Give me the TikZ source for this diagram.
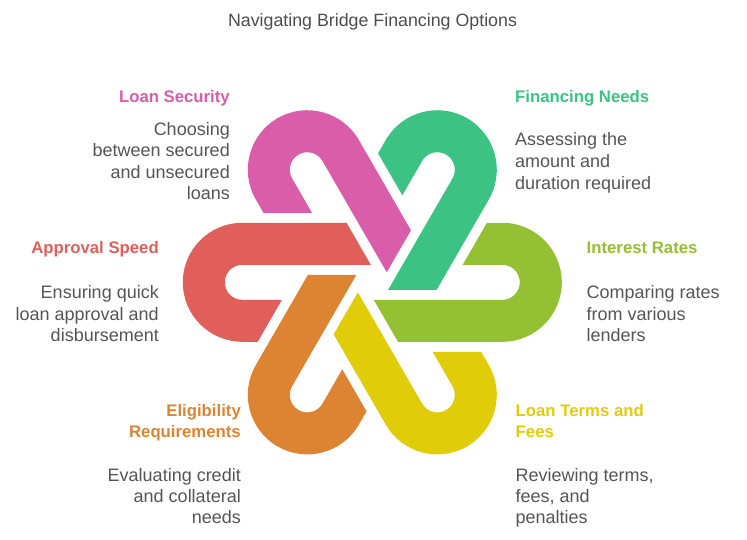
\documentclass[tikz,border=0pt]{standalone}
\usepackage{fontspec}
\setmainfont{Liberation Sans}
\definecolor{cpink}{HTML}{D95DA8}
\definecolor{cgreen}{HTML}{3CC383}
\definecolor{clime}{HTML}{94C033}
\definecolor{cyellow}{HTML}{E1CC0A}
\definecolor{corange}{HTML}{DD8433}
\definecolor{cred}{HTML}{E05F5A}
\definecolor{cgray}{HTML}{555555}
\definecolor{ctitle}{HTML}{4D4D4D}
\begin{document}
\begin{tikzpicture}[x=1pt,y=1pt,
  desc/.style={inner sep=0pt, font=\fontsize{18}{21.5}\selectfont, text=cgray},
  lab/.style={inner sep=0pt, font=\fontsize{16.75}{20.5}\selectfont\bfseries},
  ttl/.style={inner sep=0pt, font=\fontsize{17.8}{20}\selectfont, text=ctitle}]
\useasboundingbox (0,0) rectangle (747,-540);
\coordinate (C) at (372.3,-282.3);
% six interlocking hooks (one shape rotated around the centre)
\foreach \ang/\col in {0/cred,-60/cpink,-120/cgreen,180/clime,120/cyellow,60/corange}{
  \fill[\col, shift={(C)}, rotate=\ang]
    (-25.7,59.5) -- (-130,59.5) arc[start angle=90,end angle=270,radius=59.5]
    -- (-114.6,-59.5) -- (-90.36,-17.5) -- (-130,-17.5)
    arc[start angle=270,end angle=90,radius=17.5]
    -- (-1.44,17.5) -- cycle;
}
% title
\node[ttl, anchor=base] (title) at (372.5,-26.7) {Navigating Bridge Financing Options};
% Loan Security
\node[lab, text=cpink, anchor=base east] (l1) at (230,-102.7) {Loan Security};
\node[desc, anchor=base east] (d1a) at (230,-135.3) {Choosing};
\node[desc, anchor=base east] (d1b) at (230,-156.7) {between secured};
\node[desc, anchor=base east] (d1c) at (230,-178.3) {and unsecured};
\node[desc, anchor=base east] (d1d) at (230,-199.3) {loans};
% Financing Needs
\node[lab, text=cgreen, anchor=base west] (l2) at (515,-102.7) {Financing Needs};
\node[desc, anchor=base west] (d2a) at (515,-145.7) {Assessing the};
\node[desc, anchor=base west] (d2b) at (515,-167.3) {amount and};
\node[desc, anchor=base west] (d2c) at (515,-189.3) {duration required};
% Interest Rates
\node[lab, text=clime, anchor=base west] (l3) at (586.5,-254) {Interest Rates};
\node[desc, anchor=base west] (d3a) at (586.5,-298.5) {Comparing rates};
\node[desc, anchor=base west] (d3b) at (586.5,-320) {from various};
\node[desc, anchor=base west] (d3c) at (586.5,-341.3) {lenders};
% Approval Speed
\node[lab, text=cred, anchor=base east] (l4) at (159,-254) {Approval Speed};
\node[desc, anchor=base east] (d4a) at (159,-298.5) {Ensuring quick};
\node[desc, anchor=base east] (d4b) at (159,-320) {loan approval and};
\node[desc, anchor=base east] (d4c) at (159,-341.3) {disbursement};
% Eligibility Requirements
\node[lab, text=corange, anchor=base east] (l5a) at (241,-416.7) {Eligibility};
\node[lab, text=corange, anchor=base east] (l5b) at (241,-437.2) {Requirements};
\node[desc, anchor=base east] (d5a) at (241,-481.7) {Evaluating credit};
\node[desc, anchor=base east] (d5b) at (241,-502.7) {and collateral};
\node[desc, anchor=base east] (d5c) at (241,-523.5) {needs};
% Loan Terms and Fees
\node[lab, text=cyellow, anchor=base west] (l6a) at (515.5,-416.7) {Loan Terms and};
\node[lab, text=cyellow, anchor=base west] (l6b) at (515.5,-437.2) {Fees};
\node[desc, anchor=base west] (d6a) at (515.5,-481.7) {Reviewing terms,};
\node[desc, anchor=base west] (d6b) at (515.5,-502.7) {fees, and};
\node[desc, anchor=base west] (d6c) at (515.5,-523.5) {penalties};
\end{tikzpicture}
\end{document}
